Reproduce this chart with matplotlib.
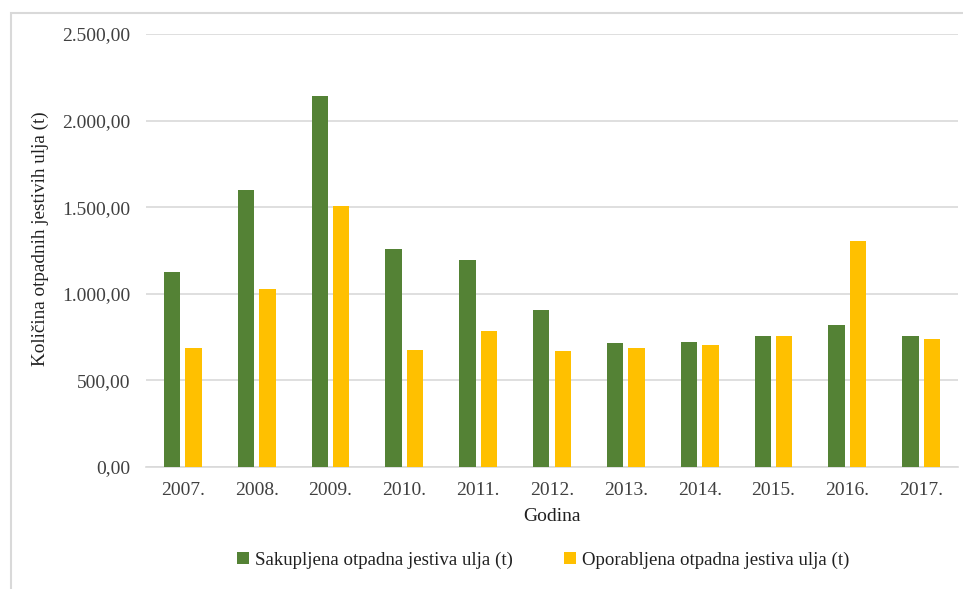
import matplotlib
matplotlib.use("Agg")
import matplotlib.pyplot as plt
import numpy as np
from matplotlib.ticker import FuncFormatter, MultipleLocator
from matplotlib.patches import Rectangle

years = ["2007.", "2008.", "2009.", "2010.", "2011.", "2012.",
         "2013.", "2014.", "2015.", "2016.", "2017."]
sakupljena = [1128, 1601, 2144, 1257, 1193, 905, 714, 720, 758, 822, 758]
oporabljena = [687, 1030, 1505, 677, 783, 672, 687, 704, 758, 1307, 741]

GREEN = "#548235"
YELLOW = "#FFC000"
GRID = "#D9D9D9"

plt.rcParams['font.family'] = ['Liberation Serif', 'DejaVu Serif']


def euroFmt(v, pos):
    s = "{:,.2f}".format(v)
    return s.replace(",", "X").replace(".", ",").replace("X", ".")


fig = plt.figure(figsize=(9.63, 5.89), dpi=100)
ax = fig.add_axes([0.1516, 0.2071, 0.8432, 0.7352])

x = np.arange(len(years))
w = 0.222
off = 0.145
ax.bar(x - off, sakupljena, w, color=GREEN, label="Sakupljena otpadna jestiva ulja (t)", zorder=3)
ax.bar(x + off, oporabljena, w, color=YELLOW, label="Oporabljena otpadna jestiva ulja (t)", zorder=3)

ax.set_xlim(-0.5, len(years) - 0.5)
ax.set_ylim(0, 2500)
ax.yaxis.set_major_locator(MultipleLocator(500))
ax.yaxis.set_major_formatter(FuncFormatter(euroFmt))
ax.set_xticks(x)
ax.set_xticklabels(years)
ax.tick_params(axis='both', length=0, labelsize=14, colors="#404040")
ax.tick_params(axis='y', pad=11)
ax.tick_params(axis='x', pad=11)
ax.yaxis.grid(True, color=GRID, linewidth=1.2, zorder=0)
for sp in ["top", "right", "left"]:
    ax.spines[sp].set_visible(False)
ax.spines["bottom"].set_color(GRID)
ax.spines["bottom"].set_linewidth(1.2)

ax.set_xlabel("Godina", fontsize=14, color="#202020", labelpad=6)
fig.text(0.042, 0.594, "Količina otpadnih jestivih ulja (t)", rotation=90,
         fontsize=13.8, ha="center", va="center", color="#202020")

fig.legend(loc="center", bbox_to_anchor=(0.564, 0.049), ncol=2, frameon=False,
           fontsize=13.6, handlelength=0.65, handleheight=0.65, handletextpad=0.3,
           columnspacing=2.7, labelcolor="#202020")

# outer chart border
fig.patches.append(Rectangle((11 / 963, -0.01), 1.0, 1 - 13 / 589 + 0.01,
                             transform=fig.transFigure, fill=False,
                             edgecolor=GRID, linewidth=1.5))

fig.savefig("out.png", dpi=100)
